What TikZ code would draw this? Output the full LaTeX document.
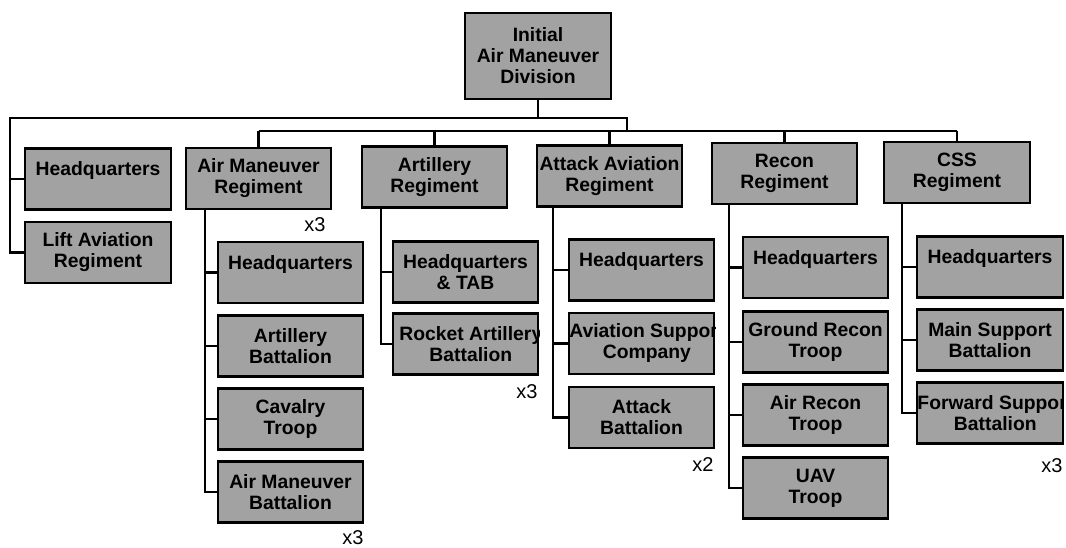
\documentclass[tikz,border=0pt]{standalone}
\usepackage{fontspec}
\setmainfont{Liberation Sans}
\definecolor{boxgray}{RGB}{162,162,162}
\tikzset{
  boxtext/.style={align=center, inner sep=1pt, font=\bfseries\fontsize{14.5}{15.75}\selectfont},
  unitbox/.style={boxtext, draw, line width=1.7pt, fill=boxgray,
    minimum width=109pt, minimum height=45.75pt},
  orgline/.style={line width=1.6pt},
  times/.style={inner sep=0pt, font=\fontsize{15}{16}\selectfont}
}
\begin{document}
\begin{tikzpicture}[x=0.75pt, y=-0.75pt]
\useasboundingbox (0,0) rectangle (1066,548);

% division and regiments
\node[unitbox, minimum height=64.5pt] (div) at (538,56) {Initial\\Air Maneuver\\Division};
\node[unitbox] (hq) at (98,179) {Headquarters\\\mbox{}};
\node[unitbox] (lift) at (98,252.5) {Lift Aviation\\Regiment};
\node[unitbox] (amr) at (258.5,178.5) {Air Maneuver\\Regiment};
\node[unitbox] (art) at (434.5,177) {Artillery\\Regiment};
\node[unitbox] (aav) at (609.5,176) {Attack Aviation\\Regiment};
\node[unitbox] (rec) at (784.5,173.5) {Recon\\Regiment};
\node[unitbox] (css) at (957,172.5) {CSS\\Regiment};

% air maneuver regiment
\node[unitbox] (amr1) at (290.5,272.5) {Headquarters\\\mbox{}};
\node[unitbox] (amr2) at (290.5,346) {Artillery\\Battalion};
\node[unitbox] (amr3) at (290.5,419) {Cavalry\\Troop};
\node[unitbox] (amr4) at (290.5,492) {Air Maneuver\\Battalion};

% artillery regiment
\node[unitbox] (art1) at (465.5,272) {Headquarters\\\& TAB};
\node[unitbox] (art2) at (465.5,344) {};
\begin{scope}
  \clip (art2.south west) rectangle (art2.north east);
  \node[boxtext] (art2t) at ([xshift=4pt]art2.center) {Rocket Artillery\\Battalion};
\end{scope}

% attack aviation regiment
\node[unitbox] (aav1) at (641.5,270) {Headquarters\\\mbox{}};
\node[unitbox] (aav2) at (641.5,343.5) {};
\begin{scope}
  \clip (aav2.south west) rectangle (aav2.north east);
  \node[boxtext] (aav2t) at ([xshift=4pt]aav2.center) {Aviation Support\\Company};
\end{scope}
\node[unitbox] (aav3) at (641.5,417.5) {Attack\\Battalion};

% recon regiment
\node[unitbox] (rec1) at (815.5,267.5) {Headquarters\\\mbox{}};
\node[unitbox] (rec2) at (815.5,342) {Ground Recon\\Troop};
\node[unitbox] (rec3) at (815.5,415) {Air Recon\\Troop};
\node[unitbox] (rec4) at (815.5,488) {UAV\\Troop};

% css regiment
\node[unitbox] (css1) at (990,267) {Headquarters\\\mbox{}};
\node[unitbox] (css2) at (990,340) {Main Support\\Battalion};
\node[unitbox] (css3) at (990,413) {};
\begin{scope}
  \clip (css3.south west) rectangle (css3.north east);
  \node[boxtext] (css3t) at ([xshift=4pt]css3.center) {Forward Support\\Battalion};
\end{scope}

% multipliers
\node[times] (amrx) at (315,225) {x3};
\node[times] (amr4x) at (353,538) {x3};
\node[times] (art2x) at (527,392) {x3};
\node[times] (aav3x) at (703,464.5) {x2};
\node[times] (css3x) at (1052,466) {x3};

% top connectors
\coordinate (lbar) at (10,118);
\coordinate (rbar) at (627,118);
\coordinate (sbar) at (627,131);
\draw[orgline] (div.south) |- (lbar) |- (lift.west);
\draw[orgline] (lbar) |- (hq.west);
\draw[orgline] (div.south) |- (rbar) -- (sbar);
\draw[orgline] (amr.north |- sbar) -- (css.north |- sbar);
\foreach \r in {amr,art,aav,rec,css}
  \draw[orgline] (\r.north) -- (\r.north |- sbar);

% regiment trunks
\foreach \c in {amr1,amr2,amr3,amr4}
  \draw[orgline] ([xshift=15pt]amr.south west) |- (\c.west);
\foreach \c in {art1,art2}
  \draw[orgline] ([xshift=15pt]art.south west) |- (\c.west);
\foreach \c in {aav1,aav2,aav3}
  \draw[orgline] ([xshift=13pt]aav.south west) |- (\c.west);
\foreach \c in {rec1,rec2,rec3,rec4}
  \draw[orgline] ([xshift=13.5pt]rec.south west) |- (\c.west);
\foreach \c in {css1,css2,css3}
  \draw[orgline] ([xshift=14pt]css.south west) |- (\c.west);
\end{tikzpicture}
\end{document}
